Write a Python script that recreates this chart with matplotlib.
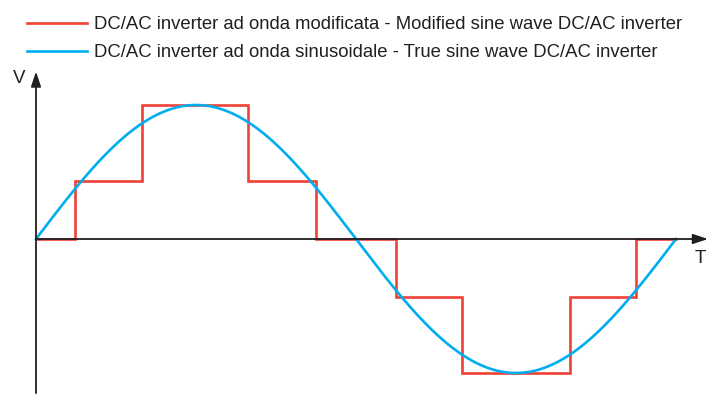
import matplotlib.pyplot as plt
import numpy as np

# one period of the waves, time in fractions of T
step_times = [0.0, 0.061, 0.166, 0.331, 0.4375, 0.5625, 0.666, 0.834, 0.9375, 1.0]
step_levels = [0.0, 0.433, 1.0, 0.433, 0.0, -0.433, -1.0, -0.433, 0.0]
sine_t = np.linspace(0, 1, 400)
labels = ['DC/AC inverter ad onda modificata - Modified sine wave DC/AC inverter',
          'DC/AC inverter ad onda sinusoidale - True sine wave DC/AC inverter']

red = '#ef4136'
blue = '#00aeef'
dark = '#231f20'

plt.rcParams['font.family'] = ['Liberation Sans Narrow', 'Liberation Sans', 'DejaVu Sans']

fig = plt.figure(figsize=(7.14, 3.99), dpi=100)
ax = fig.add_axes([0, 0, 1, 1])
ax.set_xlim(-36 / 640, 678 / 640)
ax.set_ylim(-160 / 134, 239 / 134)
ax.axis('off')

# axes with arrows
ax.annotate('', xy=(0, 1.25), xytext=(0, -1.15),
            arrowprops=dict(arrowstyle='-|>,head_length=0.9,head_width=0.3', color=dark, lw=1.3,
                            shrinkA=0, shrinkB=0))
ax.annotate('', xy=(1.05, 0), xytext=(0, 0),
            arrowprops=dict(arrowstyle='-|>,head_length=0.9,head_width=0.3', color=dark, lw=1.3,
                            shrinkA=0, shrinkB=0))
ax.text(-0.016, 1.20, 'V', fontsize=13.5, ha='right', va='center', color=dark)
ax.text(1.029, -0.145, 'T', fontsize=13.5, ha='left', va='center', color=dark)

red_x = np.repeat(step_times, 2)[1:-1]
red_y = np.repeat(step_levels, 2)
ax.plot(red_x, red_y, color=red, lw=1.9, solid_joinstyle='miter', label=labels[0])
ax.plot(sine_t, np.sin(2 * np.pi * sine_t), color=blue, lw=1.9, label=labels[1])

ax.legend(loc='upper left', bbox_to_anchor=(20 / 714, 1 - 9 / 399), frameon=False,
          fontsize=13.3, handlelength=3.25, handletextpad=0.35, labelspacing=0.6,
          borderaxespad=0, labelcolor=dark)

fig.savefig('out.png', dpi=100)
